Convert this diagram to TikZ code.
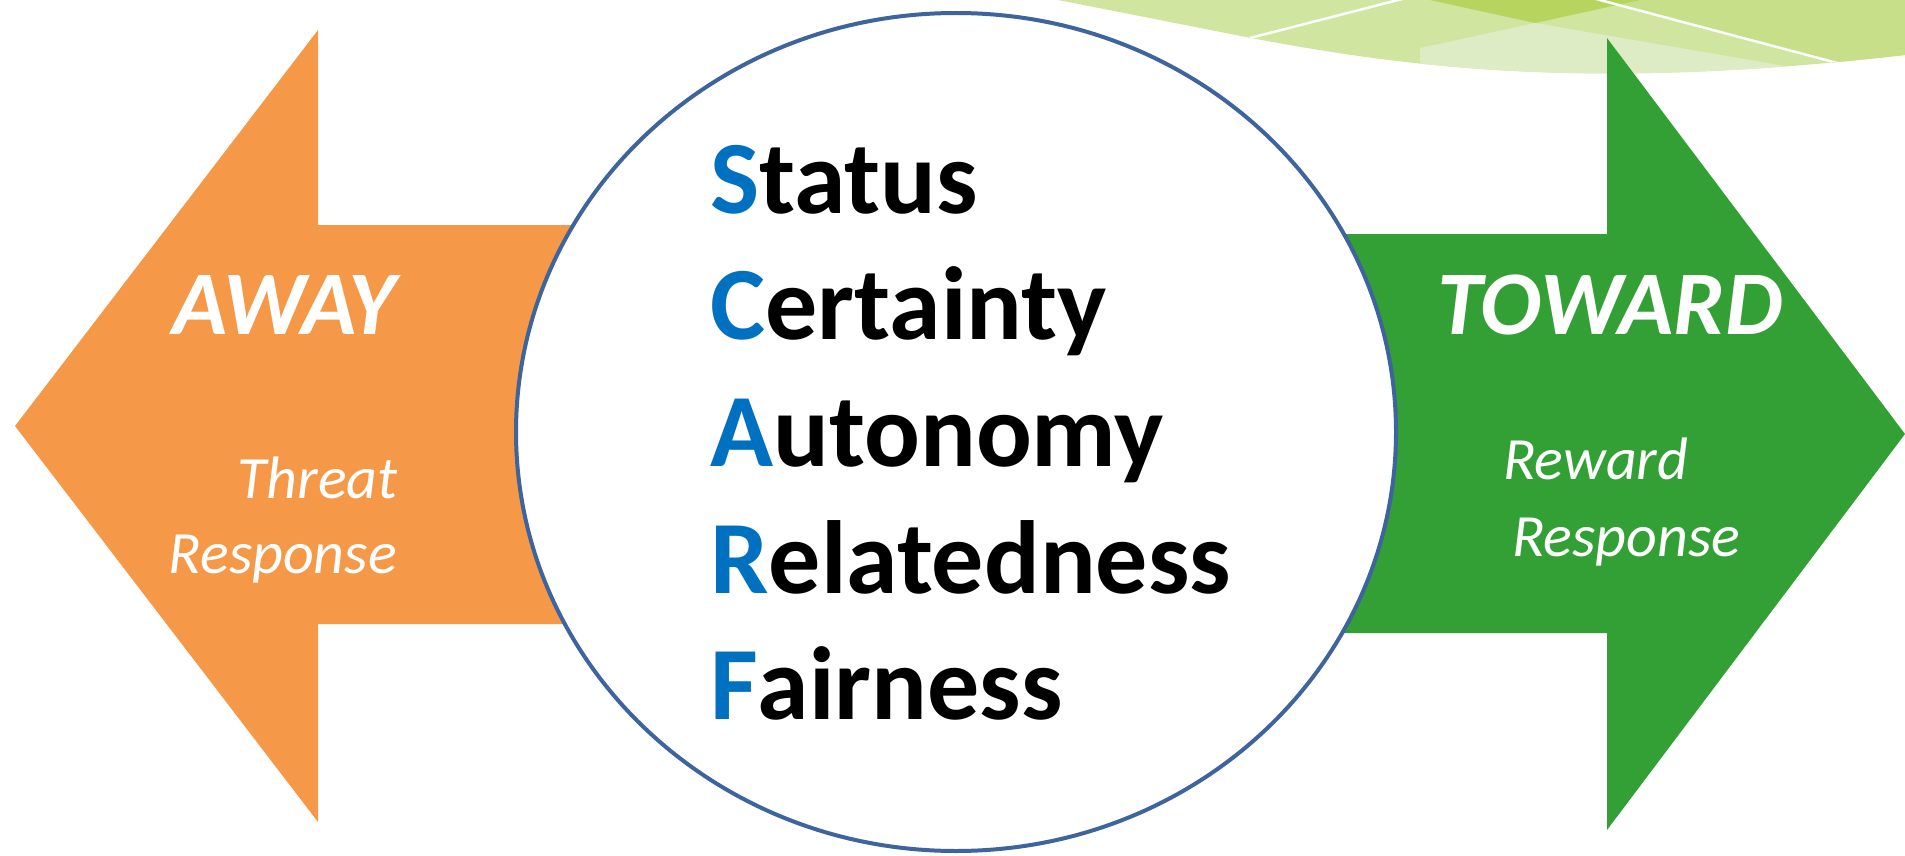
\documentclass[tikz,border=0pt]{standalone}
\usepackage{fontspec}
\setmainfont{Carlito}
\usetikzlibrary{shapes.geometric}
\definecolor{awayorange}{RGB}{245,152,72}
\definecolor{towardgreen}{RGB}{50,160,52}
\definecolor{scarfblue}{RGB}{0,112,192}
\definecolor{circblue}{RGB}{62,100,158}
\definecolor{bandbase}{RGB}{208,229,160}
\definecolor{banddark}{RGB}{198,223,136}
\definecolor{bandlight}{RGB}{221,236,196}
\definecolor{bandsolid}{RGB}{182,212,94}
\begin{document}
\begin{tikzpicture}[x=1pt,y=-1pt,
  scarf/.style={anchor=base west, inner sep=0pt, font=\fontsize{104}{120}\selectfont\bfseries},
  bigword/.style={anchor=base, inner sep=0pt, text=white, font=\fontsize{91}{100}\selectfont\bfseries\itshape},
  smallword/.style={inner sep=0pt, text=white, font=\fontsize{60}{72}\selectfont\itshape},
  whiteline/.style={white, line width=2.5pt}]
\useasboundingbox (0,0) rectangle (1905,856);
% decorative band top right
\begin{scope}
\clip (1058,0) -- (1251,38) .. controls (1420,70) and (1600,90) .. (1905,55) -- (1905,0) -- cycle;
\fill[bandbase] (1000,-5) rectangle (1910,100);
\fill[banddark] (1597,0) -- (1860,70) -- (1910,70) -- (1910,-5) -- cycle;
\fill[bandlight] (1420,48) -- (1535,23) -- (1820,72) -- (1820,100) -- (1420,100) -- cycle;
\fill[bandsolid] (1430,-5) -- (1430,0) -- (1535,23) -- (1640,0) -- (1640,-5) -- cycle;
\draw[whiteline] (1250,38) -- (1406,-2);
\draw[whiteline] (1596,-1) -- (1856,68);
\end{scope}
% arrows
\fill[awayorange] (15,426) -- (318,30) -- (318,225) -- (720,225) -- (720,624) -- (318,624) -- (318,822) -- cycle;
\fill[towardgreen] (1905,434) -- (1607,38) -- (1607,234) -- (1200,234) -- (1200,633) -- (1607,633) -- (1607,830) -- cycle;
% circle
\node[ellipse, draw=circblue, line width=4pt, fill=white, inner sep=0pt,
      minimum width=880pt, minimum height=838pt] (circ) at (956,432) {};
% SCARF words
\node[scarf] (s1) at (710,213) {\textcolor{scarfblue}{S}tatus};
\node[scarf] (s2) at (710,339) {\textcolor{scarfblue}{C}ertainty};
\node[scarf] (s3) at (710,466) {\textcolor{scarfblue}{A}utonomy};
\node[scarf] (s4) at (710,593) {\textcolor{scarfblue}{R}elatedness};
\node[scarf] (s5) at (710,719) {\textcolor{scarfblue}{F}airness};
% arrow labels
\node[bigword] (away) at (284,334) {AWAY};
\node[smallword, anchor=base east] (threat) at (398,498) {Threat};
\node[smallword, anchor=base east] (tresp) at (397,573) {Response};
\node[bigword] (toward) at (1610,334) {TOWARD};
\node[smallword, anchor=base west] (reward) at (1503,479) {Reward};
\node[smallword, anchor=base west] (rresp) at (1512,556) {Response};
\end{tikzpicture}
\end{document}
